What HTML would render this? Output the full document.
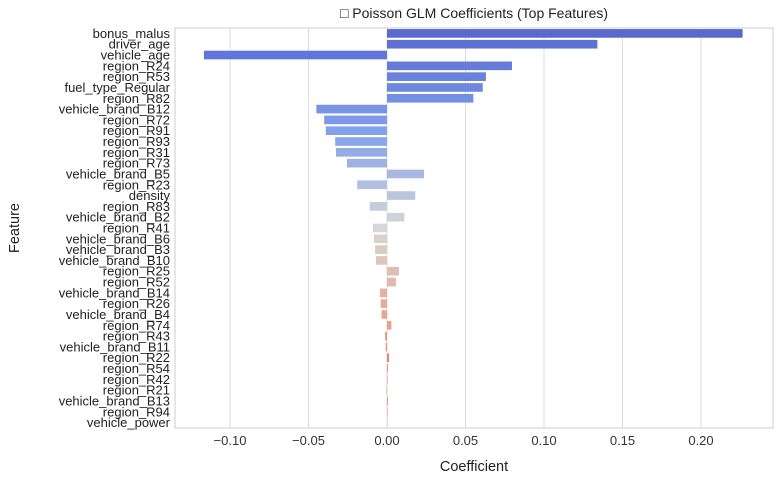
<!DOCTYPE html>
<html><head><meta charset="utf-8"><style>
body{margin:0;background:#fff;font-family:"Liberation Sans","DejaVu Sans",sans-serif;}
</style></head><body>
<svg id="c" width="784" height="484"></svg>
<script>
const categories=["bonus_malus","driver_age","vehicle_age","region_R24","region_R53","fuel_type_Regular","region_R82","vehicle_brand_B12","region_R72","region_R91","region_R93","region_R31","region_R73","vehicle_brand_B5","region_R23","density","region_R83","vehicle_brand_B2","region_R41","vehicle_brand_B6","vehicle_brand_B3","vehicle_brand_B10","region_R25","region_R52","vehicle_brand_B14","region_R26","vehicle_brand_B4","region_R74","region_R43","vehicle_brand_B11","region_R22","region_R54","region_R42","region_R21","vehicle_brand_B13","region_R94","vehicle_power"];
const values=[0.2265,0.134,-0.1166,0.0796,0.063,0.061,0.055,-0.045,-0.040,-0.039,-0.033,-0.0325,-0.0255,0.0236,-0.019,0.018,-0.011,0.011,-0.009,-0.0083,-0.0076,-0.007,0.0076,0.0057,-0.0045,-0.004,-0.0035,0.0028,-0.0012,-0.0008,0.0013,0.0005,0.0003,-0.0002,0.0004,0.0002,0.0001];
const ticks=[-0.10,-0.05,0.00,0.05,0.10,0.15,0.20];
const tickLabels=["−0.10","−0.05","0.00","0.05","0.10","0.15","0.20"];
const NS="http://www.w3.org/2000/svg";
const svg=document.getElementById('c');
const L=175,R=773,T=28,B=428;
const x=v=>387+v*1570;
const step=(B-T)/categories.length;
const y=i=>T+i*step;
function mk(t,a,p){const e=document.createElementNS(NS,t);for(const k in a)e.setAttribute(k,a[k]);(p||svg).appendChild(e);return e;}
const stops=[[0,[88,106,208]],[0.25,[130,160,235]],[0.5,[215,215,215]],[0.75,[235,160,135]],[1,[210,80,75]]];
function cw(t){for(let i=0;i<stops.length-1;i++){const a=stops[i],b=stops[i+1];if(t<=b[0]){const f=(t-a[0])/(b[0]-a[0]);return 'rgb('+a[1].map((c,k)=>Math.round(c+(b[1][k]-c)*f)).join(',')+')';}}}
ticks.forEach((t,i)=>{
 const g=mk('line',{x1:x(t),x2:x(t),y1:T,y2:B,stroke:'#dcdcdc','stroke-width':1});
 
 const tl=mk('text',{x:x(t),y:B+17,'text-anchor':'middle','font-size':13,fill:'#333'});tl.textContent=tickLabels[i];
 
});
categories.forEach((c,i)=>{
 const v=values[i];const h=step*0.8;
 const r=mk('rect',{x:Math.min(x(0),x(v)),y:y(i)+(step-h)/2,width:Math.abs(x(v)-x(0)),height:h,fill:cw(i/(categories.length-1))});
 
 const t=mk('text',{x:L-5,y:y(i)+step/2+4.5,'text-anchor':'end','font-size':13,fill:'#222'});t.textContent=c;
 
});
const fr=mk('rect',{x:L,y:T,width:R-L,height:B-T,fill:'none',stroke:'#cccccc','stroke-width':1});

const ti=mk('text',{x:(L+R)/2,y:18,'text-anchor':'middle','font-size':14,fill:'#222'});ti.textContent='□ Poisson GLM Coefficients (Top Features)';

const xl=mk('text',{x:(L+R)/2,y:471,'text-anchor':'middle','font-size':14.5,fill:'#222'});xl.textContent='Coefficient';

const yl=mk('text',{x:19,y:(T+B)/2,'text-anchor':'middle','font-size':14.5,fill:'#222',transform:'rotate(-90 19 '+(T+B)/2+')'});yl.textContent='Feature';

</script>
</body></html>
